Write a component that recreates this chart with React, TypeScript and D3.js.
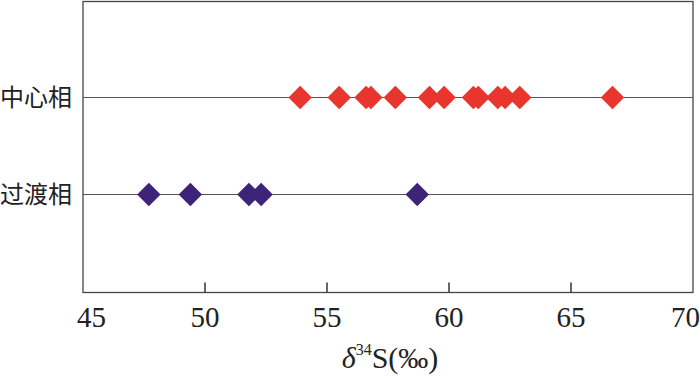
import React from 'react'
import * as d3 from 'd3'

// δ34S values (‰)
const centerValues = [53.9, 55.5, 56.6, 56.8, 57.8, 59.2, 59.8, 61.0, 61.2, 62.0, 62.3, 62.9, 66.7]
const transitionValues = [47.7, 49.4, 51.8, 52.3, 58.7]
const categories = ['过渡相', '中心相']
const xTicks = [45, 50, 55, 60, 65, 70]

const width = 700
const height = 378
const left = 83
const right = 693
const top = 1.5
const bottom = 292.5

const rows = [
    { name: categories[1], values: centerValues, color: '#e8352d' },
    { name: categories[0], values: transitionValues, color: '#3e2479' },
]

function App() {
    const x = d3.scaleLinear().domain([45, 70]).range([left, right])
    const y = d3.scaleLinear().domain([0, 3]).range([bottom, top])
    const diamond = d3.symbol().type(d3.symbolDiamond2).size(350)()

    const serif = '"Liberation Serif", "Times New Roman", serif'
    const cjk = '"Noto Sans CJK SC", sans-serif'

    // edge labels are pulled inside the picture
    const labelX = (t: number, i: number) => {
        if (i === 0) return { x: x(t) - 6, anchor: 'start' }
        if (i === xTicks.length - 1) return { x: width, anchor: 'end' }
        return { x: x(t), anchor: 'middle' }
    }

    return (
        <svg width={width} height={height} style={{ position: 'absolute', left: 0, top: 0 }}>
            <rect x={0} y={0} width={width} height={height} fill="#fff" />
            {rows.map((r) => {
                const yi = y(categories.indexOf(r.name) + 1) - 1
                return (
                    <g key={r.name}>
                        <line x1={left} x2={right} y1={yi} y2={yi} stroke="#555" strokeWidth={1.2} />
                        <text x={0} y={yi} dy="0.36em" fontFamily={cjk} fontSize={24} fill="#222">{r.name}</text>
                        {r.values.map((v, i) => (
                            <path key={i} d={diamond} transform={`translate(${x(v)},${yi})`} fill={r.color} />
                        ))}
                    </g>
                )
            })}
            {xTicks.slice(1, -1).map((t) => (
                <line key={t} x1={x(t)} x2={x(t)} y1={bottom} y2={bottom - 10} stroke="#333" strokeWidth={1.5} />
            ))}
            <rect x={left} y={top} width={right - left} height={bottom - top} fill="none" stroke="#444" strokeWidth={1.3} />
            {xTicks.map((t, i) => {
                const l = labelX(t, i)
                return (
                    <text key={t} x={l.x} y={327} textAnchor={l.anchor} fontFamily={serif} fontSize={29} fill="#222">{t}</text>
                )
            })}
            <text x={(left + right) / 2 + 2} y={368} textAnchor="middle" fontFamily={serif} fontSize={30} fill="#222">
                <tspan fontStyle="italic">δ</tspan>
                <tspan fontSize={16} dy={-13}>34</tspan>
                <tspan dy={13}>S(‰)</tspan>
            </text>
        </svg>
    )
}

export default App
